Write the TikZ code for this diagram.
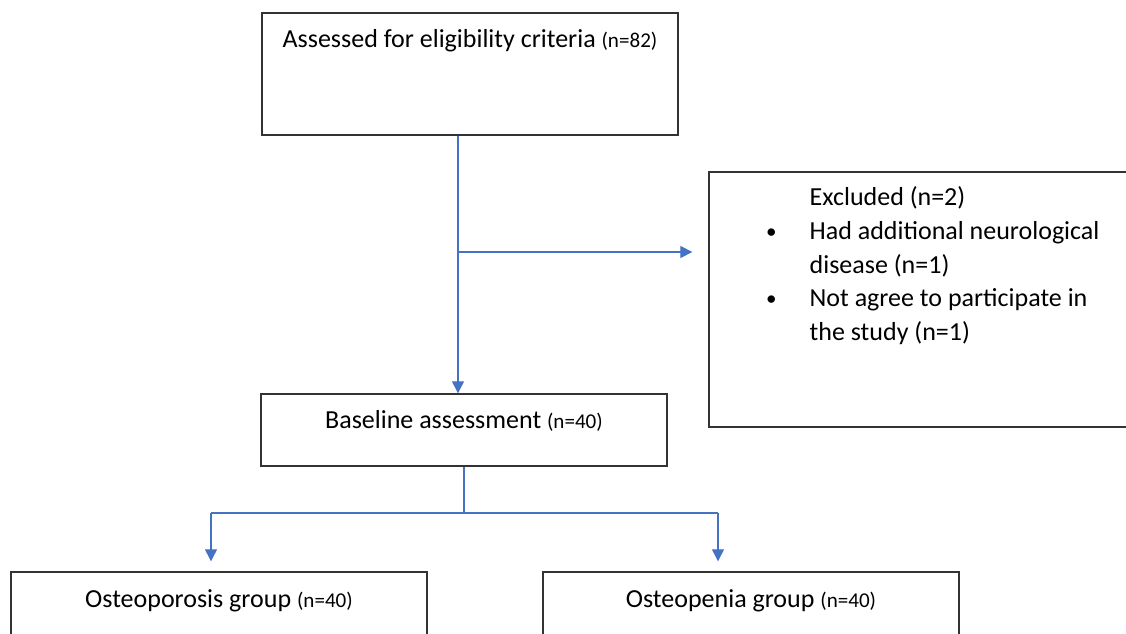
\documentclass[tikz,border=0pt]{standalone}
\usepackage{fontspec}
\setmainfont{Carlito}
\usetikzlibrary{positioning,arrows.meta}

\definecolor{arrowblue}{HTML}{4472C4}
\newcommand{\nsmall}[1]{{\fontsize{12}{14}\selectfont #1}}
\newcommand{\bul}{\llap{\raisebox{0.1ex}{\fontsize{12}{14}\selectfont\textbullet}\hspace{0.66cm}}}

\tikzset{
  box/.style={draw=black!80, line width=0.8pt, rectangle, minimum width=8.32cm, inner sep=0pt},
  boxtext/.style={font=\fontsize{14.8}{19.2}\selectfont, inner sep=0pt},
  link/.style={draw=arrowblue, line width=0.7pt},
  flow/.style={link, -{Triangle[length=0.24cm,width=0.24cm]}}
}

\begin{document}
\begin{tikzpicture}[x=0.02cm, y=-0.02cm]
    \useasboundingbox (0,0) rectangle (1126,634);
    \clip (0,0) rectangle (1126,634);

    % Boxes
    \node[box, minimum height=2.44cm,
          label={[boxtext, anchor=north, yshift=-0.34cm]north:Assessed for eligibility criteria \nsmall{(n=82)}}]
          (assess) at (470,74) {};
    \node[box, minimum width=8.6cm, minimum height=5.1cm] (excl) at (924,299.5) {};
    \node[boxtext, anchor=north west, align=left] (excltext) at ([xshift=2.02cm, yshift=-0.3cm]excl.north west)
          {Excluded (n=2)\\
           \bul Had additional neurological\\
           disease (n=1)\\
           \bul Not agree to participate in\\
           the study (n=1)};
    \node[box, minimum width=8.12cm, minimum height=1.44cm,
          label={[boxtext, anchor=north, yshift=-0.34cm]north:Baseline assessment \nsmall{(n=40)}}]
          (base) at (464,430) {};
    \node[box, minimum height=2.44cm,
          label={[boxtext, anchor=north, yshift=-0.36cm]north:Osteoporosis group \nsmall{(n=40)}}]
          (poro) at (219,633) {};
    \node[box, minimum height=2.44cm,
          label={[boxtext, anchor=north, yshift=-0.36cm]north:Osteopenia group \nsmall{(n=40)}}]
          (penia) at (751,633) {};

    % Connections
    \coordinate (split) at (458,252);
    \coordinate (fork) at (464,513);
    \coordinate (forkl) at (211,513);
    \coordinate (forkr) at (718,513);

    \draw[link] (assess.south -| split) -- (split);
    \draw[flow] (split) -- (split |- base.north);
    \draw[flow, shorten >=0.32cm] (split) -- (split -| excl.west);

    \draw[link] (base.south) -- (fork);
    \draw[link] (forkl) -- (forkr);
    \draw[flow, shorten >=0.2cm] (forkl) -- (forkl |- poro.north);
    \draw[flow, shorten >=0.2cm] (forkr) -- (forkr |- penia.north);
\end{tikzpicture}
\end{document}
